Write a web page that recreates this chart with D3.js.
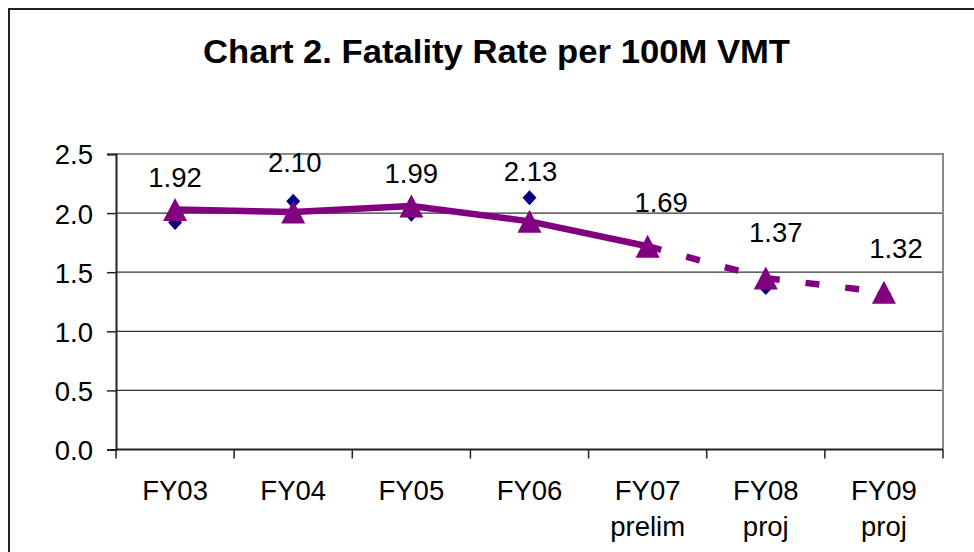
<!DOCTYPE html>
<html>
<head>
<meta charset="utf-8">
<script src="https://cdn.jsdelivr.net/npm/d3@7"></script>
<style>
  html, body { margin: 0; padding: 0; background: #fff; }
  svg { display: block; font-family: "Liberation Sans", Arial, sans-serif; }
</style>
</head>
<body>
<svg id="chart" width="974" height="552"></svg>
<script>
// ---- data ----
const categories = ["FY03", "FY04", "FY05", "FY06", "FY07", "FY08", "FY09"];
const categorySubLabels = ["", "", "", "", "prelim", "proj", "proj"];
const fatalityRate = [1.92, 2.10, 1.99, 2.13, 1.69, 1.37, 1.32];
const trendRate = [2.03, 2.01, 2.06, 1.93, 1.72, 1.45, 1.33];
const yTicks = [0.0, 0.5, 1.0, 1.5, 2.0, 2.5];
const titleText = "Chart 2. Fatality Rate per 100M VMT";
const dashedFromIndex = 4; // trend segments after FY07 are projections

// label placement tweaks (pixels, relative to point)
const labelDx = [0, 1.5, 0, 1, 13.5, 10, 12];
const labelDy = [-36, -29.5, -31.5, -17, -38, -46, -35];

// ---- layout ----
const svg = d3.select("#chart");
const W = 974, H = 552;
const plot = { left: 116, right: 943, top: 154, bottom: 449.5 };

svg.append("rect").attr("x", 0).attr("y", 0).attr("width", W).attr("height", H).attr("fill", "#fff");
// outer chart frame
svg.append("rect").attr("x", 9).attr("y", 9).attr("width", 1100).attr("height", 700)
  .attr("fill", "none").attr("stroke", "#222").attr("stroke-width", 2);

// title
svg.append("text")
  .attr("x", 203).attr("y", 63)
  .attr("font-size", 33).attr("font-weight", "bold").attr("fill", "#000")
  .attr("textLength", 587).attr("lengthAdjust", "spacingAndGlyphs")
  .text(titleText);

const x = d3.scaleBand().domain(categories).range([plot.left, plot.right]).paddingInner(0).paddingOuter(0);
const y = d3.scaleLinear().domain([0, 2.5]).range([plot.bottom, plot.top]);
const cx = c => x(c) + x.bandwidth() / 2;

// gridlines
svg.append("g").selectAll("line").data(yTicks.filter(t => t > 0 && t < 2.5)).join("line")
  .attr("x1", plot.left).attr("x2", plot.right)
  .attr("y1", d => y(d)).attr("y2", d => y(d))
  .attr("stroke", "#333").attr("stroke-width", 1.2);

// plot border (top, right)
svg.append("path")
  .attr("d", `M${plot.left},${plot.top}H${plot.right}V${plot.bottom}`)
  .attr("fill", "none").attr("stroke", "#8a8a8a").attr("stroke-width", 2);

// y axis
const yAxis = d3.axisLeft(y).tickValues(yTicks).tickFormat(d3.format(".1f")).tickSize(9).tickPadding(14);
const gy = svg.append("g").attr("transform", `translate(${plot.left},0)`).call(yAxis);
gy.select(".domain").attr("stroke", "#222").attr("stroke-width", 2);
gy.selectAll(".tick line").attr("stroke", "#222").attr("stroke-width", 1.5);
gy.selectAll(".tick text").attr("font-size", 27.5).attr("fill", "#000")
  .attr("font-family", "Liberation Sans, Arial, sans-serif").attr("dy", "0.36em");

// x axis with ticks at category boundaries
const gx = svg.append("g").attr("transform", `translate(0,${plot.bottom})`);
gx.append("line").attr("x1", plot.left).attr("x2", plot.right).attr("y1", 0).attr("y2", 0)
  .attr("stroke", "#222").attr("stroke-width", 2);
const boundaries = categories.map(c => x(c)).concat([x(categories[categories.length - 1]) + x.bandwidth()]);
gx.selectAll("line.b").data(boundaries).join("line").attr("class", "b")
  .attr("x1", d => d).attr("x2", d => d).attr("y1", 0).attr("y2", 9)
  .attr("stroke", "#222").attr("stroke-width", 1.5);
gx.selectAll("text.cat").data(categories).join("text").attr("class", "cat")
  .attr("x", d => cx(d)).attr("y", 50.5).attr("text-anchor", "middle")
  .attr("font-size", 27.5).attr("fill", "#000").text(d => d);
gx.selectAll("text.sub").data(categories).join("text").attr("class", "sub")
  .attr("x", d => cx(d)).attr("y", 86).attr("text-anchor", "middle")
  .attr("font-size", 27.5).attr("fill", "#000").text((d, i) => categorySubLabels[i]);

// diamonds (actual rate)
svg.append("g").selectAll("path").data(fatalityRate).join("path")
  .attr("d", "M0,-7.5L7,0L0,7.5L-7,0Z")
  .attr("transform", (d, i) => `translate(${cx(categories[i])},${y(d)})`)
  .attr("fill", "#000080");

// trend line segments
const segs = d3.range(trendRate.length - 1).map(i => ({ i, a: trendRate[i], b: trendRate[i + 1] }));
svg.append("g").selectAll("line").data(segs).join("line")
  .attr("x1", d => cx(categories[d.i])).attr("y1", d => y(d.a))
  .attr("x2", d => cx(categories[d.i + 1])).attr("y2", d => y(d.b))
  .attr("stroke", "#800080").attr("stroke-width", 6.5)
  .attr("stroke-dasharray", d => d.i >= dashedFromIndex ? "14,26" : null)
  .attr("stroke-linecap", d => d.i >= dashedFromIndex ? "butt" : "round");

// triangles
svg.append("g").selectAll("path").data(trendRate).join("path")
  .attr("d", "M0,-11.5L12,11.5L-12,11.5Z")
  .attr("transform", (d, i) => `translate(${cx(categories[i])},${y(d)})`)
  .attr("fill", "#800080");

// data labels
svg.append("g").selectAll("text").data(fatalityRate).join("text")
  .attr("x", (d, i) => cx(categories[i]) + labelDx[i])
  .attr("y", (d, i) => y(d) + labelDy[i])
  .attr("text-anchor", "middle").attr("font-size", 27.5).attr("fill", "#000")
  .text(d => d3.format(".2f")(d));
</script>
</body>
</html>
